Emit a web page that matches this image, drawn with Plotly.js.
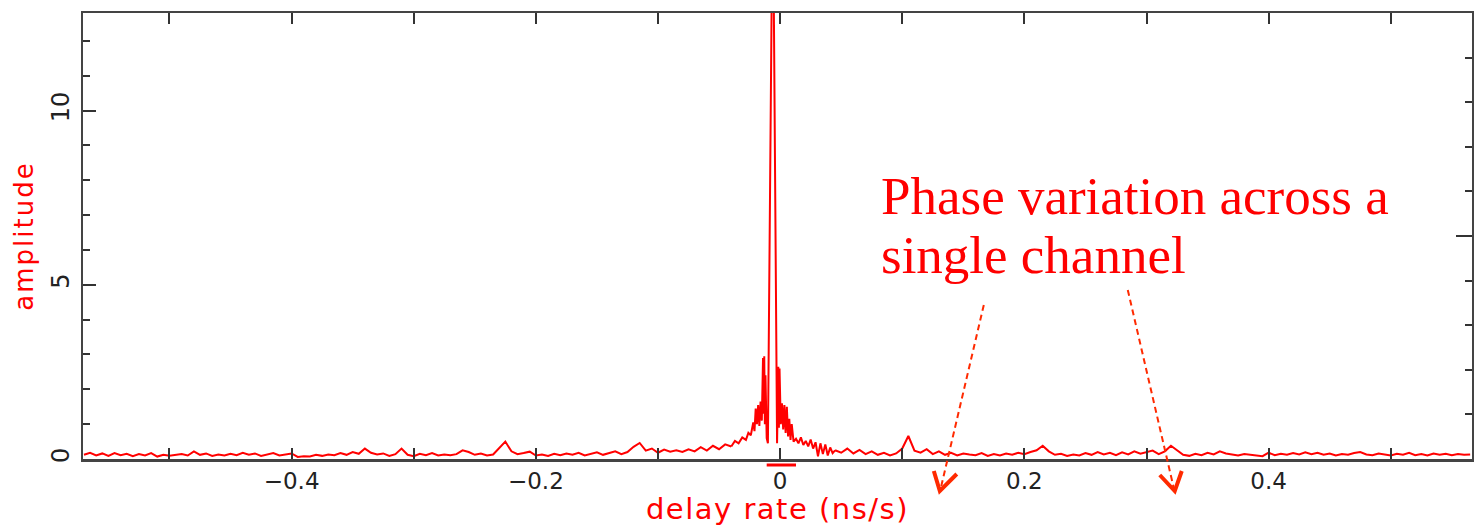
<!DOCTYPE html>
<html>
<head>
<meta charset="utf-8">
<script src="https://cdn.plot.ly/plotly-3.0.1.min.js"></script>
<style>
  html, body { margin: 0; padding: 0; background: #fff; }
  #chart { width: 1474px; height: 526px; }
  .ytitle { letter-spacing: 2px; }
  .xtitle { letter-spacing: 1.5px; }
</style>
</head>
<body>
<div id="chart"></div>
<script>
// ---- data ----
// left noise floor: delay rate from -0.570 to -0.040 in steps of 0.005
const leftStart = -0.570;
const leftStep = 0.005;
const leftAmp = [
  0.12,0.18,0.10,0.16,0.09,0.17,0.11,0.15,0.08,0.14,
  0.10,0.17,0.07,0.12,0.09,0.11,0.14,0.10,0.22,0.12,
  0.16,0.09,0.13,0.10,0.15,0.11,0.18,0.12,0.16,0.09,
  0.13,0.17,0.10,0.14,0.16,0.06,0.08,0.07,0.12,0.09,
  0.13,0.11,0.17,0.12,0.20,0.15,0.30,0.18,0.13,0.16,
  0.09,0.14,0.30,0.12,0.08,0.15,0.11,0.17,0.10,0.13,
  0.11,0.14,0.25,0.20,0.12,0.16,0.10,0.13,0.30,0.50,
  0.22,0.14,0.17,0.21,0.10,0.13,0.09,0.15,0.11,0.16,
  0.12,0.18,0.10,0.14,0.19,0.12,0.16,0.22,0.14,0.20,
  0.35,0.46,0.24,0.30,0.18,0.27,0.21,0.25,0.20,0.28,
  0.22,0.34,0.24,0.38,0.28,0.42,0.36
];

// central fringe region (finely sampled)
const centerRate = [
  -0.040,-0.037,-0.034,-0.031,-0.028,-0.026,-0.024,-0.022,-0.021,-0.020,
  -0.019,-0.018,-0.017,-0.016,-0.015,-0.014,-0.0135,-0.013,-0.0125,-0.012,
  -0.011,-0.010,-0.006,-0.0025,-0.0015,-0.001,-0.0005,0.0005,0.0015,0.0025,
  0.0035,0.0045,0.0055,0.0065,0.0075,0.0085,0.0095,0.011,0.013,0.015,
  0.017,0.019,0.021,0.023,0.025,0.027,0.029,0.031,0.033,0.035,
  0.037,0.039,0.041,0.043,0.045
];
const centerAmp = [
  0.36,0.52,0.45,0.62,0.55,0.75,0.68,1.05,0.80,1.45,
  1.00,1.55,0.95,1.65,1.10,2.90,1.30,2.95,1.00,2.40,
  0.60,0.45,17.0,0.45,2.65,0.90,2.60,1.00,1.60,0.85,
  1.55,0.75,1.50,0.65,1.15,0.55,1.00,0.50,0.58,0.45,
  0.62,0.40,0.52,0.36,0.56,0.30,0.48,0.08,0.45,0.14,
  0.42,0.10,0.33,0.17,0.25
];

// right noise floor: delay rate from 0.045 to 0.565 in steps of 0.005
const rightStart = 0.045;
const rightStep = 0.005;
const rightAmp = [
  0.25,0.18,0.30,0.16,0.26,0.14,0.22,0.12,0.18,0.10,
  0.16,0.30,0.66,0.24,0.18,0.28,0.14,0.22,0.12,0.18,
  0.10,0.16,0.13,0.11,0.17,0.09,0.14,0.10,0.16,0.12,
  0.18,0.14,0.20,0.25,0.38,0.22,0.12,0.15,0.09,0.13,
  0.10,0.17,0.12,0.20,0.13,0.18,0.11,0.19,0.13,0.22,
  0.15,0.20,0.24,0.14,0.22,0.38,0.26,0.12,0.09,0.15,
  0.11,0.18,0.13,0.22,0.16,0.12,0.10,0.14,0.12,0.10,
  0.08,0.18,0.11,0.15,0.12,0.17,0.13,0.19,0.14,0.18,
  0.12,0.16,0.10,0.14,0.12,0.17,0.20,0.13,0.11,0.16,
  0.12,0.10,0.15,0.12,0.18,0.11,0.14,0.10,0.16,0.12,
  0.15,0.11,0.14,0.12,0.13
];

// window marker under zero (delay rate extent)
const windowRate = [-0.011, 0.013];

const annotationLines = ['Phase variation across a', 'single channel'];

// ---- drawing ----
const RED = '#ff0000';
const lineStyle = { color: RED, width: 2 };

const traces = [
  { type: 'scatter', mode: 'lines', x0: leftStart, dx: leftStep, y: leftAmp, line: lineStyle, hoverinfo: 'x+y' },
  { type: 'scatter', mode: 'lines', x: centerRate, y: centerAmp, line: lineStyle, hoverinfo: 'x+y' },
  { type: 'scatter', mode: 'lines', x0: rightStart, dx: rightStep, y: rightAmp, line: lineStyle, hoverinfo: 'x+y' },
  { type: 'scatter', mode: 'lines', x: [], y: [], yaxis: 'y2', hoverinfo: 'skip' }
];

// pixel -> paper helpers for the hand-drawn arrows and text
const L = 83, R = 1472.3, T = 13, B = 459;
const px = v => (v - L) / (R - L);
const py = v => (B - v) / (B - T);
const pt = (x, y) => px(x).toFixed(5) + ',' + py(y).toFixed(5);

const ARROW = '#ff2a00';
const shapes = [
  { type: 'line', xref: 'x', yref: 'paper', x0: windowRate[0], x1: windowRate[1],
    y0: py(465), y1: py(465), line: { color: RED, width: 3 } },
  { type: 'line', xref: 'paper', yref: 'paper', x0: px(984), y0: py(305), x1: px(941), y1: py(488),
    line: { color: ARROW, width: 2, dash: '6px,4px' } },
  { type: 'path', xref: 'paper', yref: 'paper',
    path: 'M' + pt(934, 471) + ' L' + pt(940, 491) + ' L' + pt(957, 474),
    line: { color: ARROW, width: 4 } },
  { type: 'line', xref: 'paper', yref: 'paper', x0: px(1128), y0: py(290), x1: px(1174), y1: py(488),
    line: { color: ARROW, width: 2, dash: '6px,4px' } },
  { type: 'path', xref: 'paper', yref: 'paper',
    path: 'M' + pt(1160, 475) + ' L' + pt(1175, 491) + ' L' + pt(1182, 471),
    line: { color: ARROW, width: 4 } }
];

const serif = { family: 'Liberation Serif, Times New Roman, serif', size: 53, color: RED };
const annotations = [
  { xref: 'paper', yref: 'paper', x: px(879), y: py(164.5), xanchor: 'left', yanchor: 'top',
    align: 'left', showarrow: false, text: annotationLines[0], font: serif },
  { xref: 'paper', yref: 'paper', x: px(879), y: py(223.5), xanchor: 'left', yanchor: 'top',
    align: 'left', showarrow: false, text: annotationLines[1], font: serif }
];

const AX = '#444';
const layout = {
  width: 1474, height: 526,
  margin: { l: 83, r: 1.7, t: 13, b: 67 },
  paper_bgcolor: '#fff', plot_bgcolor: '#fff',
  showlegend: false,
  font: { family: 'DejaVu Sans, sans-serif', color: '#222' },
  xaxis: {
    range: [-0.5708, 0.5665],
    tick0: 0, dtick: 0.2,
    ticks: 'inside', ticklen: 11, tickwidth: 2, tickcolor: '#333',
    minor: { dtick: 0.1, ticks: 'inside', ticklen: 6, tickwidth: 2, tickcolor: '#333' },
    showline: true, linecolor: AX, linewidth: 2.5, mirror: 'allticks',
    showgrid: false, zeroline: false,
    tickfont: { family: 'DejaVu Sans, sans-serif', size: 23, color: '#222' },
    title: { text: 'delay rate (ns/s)', font: { family: 'DejaVu Sans, sans-serif', size: 29, color: RED }, standoff: 7 }
  },
  yaxis: {
    range: [0, 12.8],
    tick0: 0, dtick: 5,
    ticks: 'inside', ticklen: 13, tickwidth: 2, tickcolor: '#333',
    minor: { dtick: 1, ticks: 'inside', ticklen: 7, tickwidth: 2, tickcolor: '#333' },
    showline: true, linecolor: AX, linewidth: 2.5, mirror: true,
    showgrid: false, zeroline: false,
    tickangle: -90,
    ticklabelstandoff: 2,
    tickfont: { family: 'DejaVu Sans, sans-serif', size: 24, color: '#222' },
    title: { text: 'amplitude', font: { family: 'DejaVu Sans, sans-serif', size: 26, color: RED }, standoff: 6 }
  },
  yaxis2: {
    overlaying: 'y', side: 'right',
    range: [0, 2], tick0: 0, dtick: 1,
    ticks: 'inside', ticklen: 16, tickwidth: 2, tickcolor: '#333',
    minor: { dtick: 0.2, ticks: 'inside', ticklen: 7, tickwidth: 2, tickcolor: '#333' },
    showticklabels: false, showline: false, showgrid: false, zeroline: false
  },
  shapes: shapes,
  annotations: annotations
};

Plotly.newPlot('chart', traces, layout, { displayModeBar: false, staticPlot: true });
</script>
</body>
</html>
